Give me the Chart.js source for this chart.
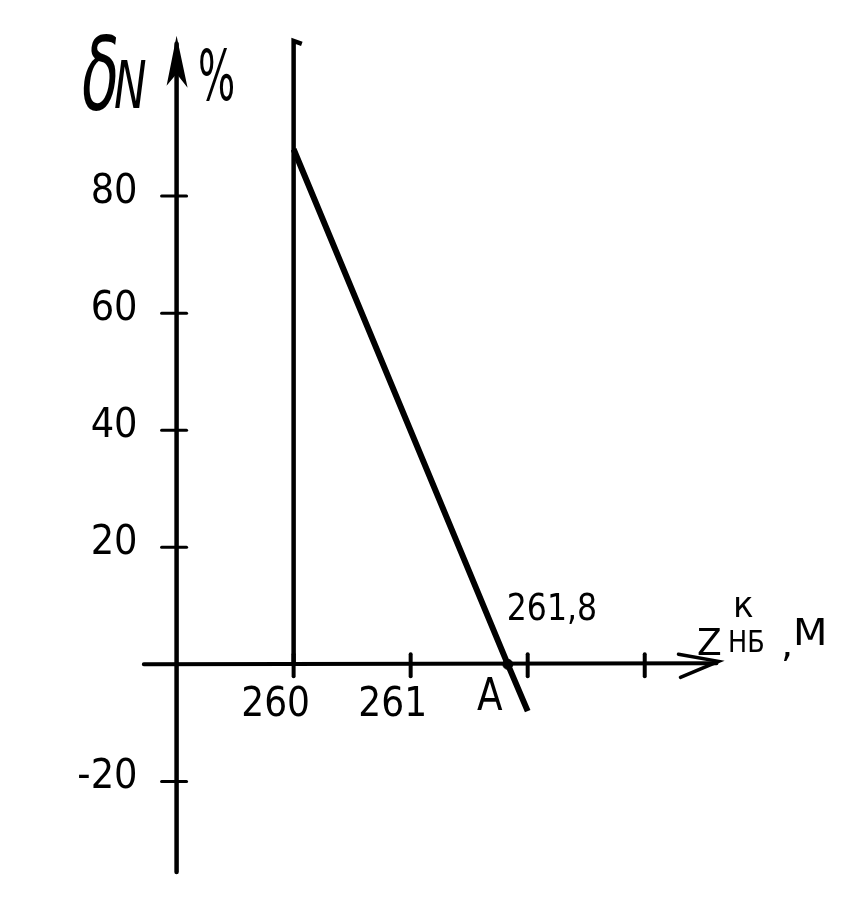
<!DOCTYPE html>
<html>
<head>
<meta charset="utf-8">
<script src="https://cdn.jsdelivr.net/npm/chart.js@4.4.1/dist/chart.umd.min.js"></script>
<style>
  html, body { margin: 0; padding: 0; background: #fff; }
  canvas { display: block; }
</style>
</head>
<body>
<canvas id="chart" width="857" height="921"></canvas>
<script>
// values
const lineX = [260, 261.83, 262];
const lineY = [88, 0, -8];
const wallX = [260, 260, 260.07];
const wallY = [0, 106.5, 106];
const pointA = { x: 261.83, y: 0 };
const xTicks = [260, 261, 262, 263];
const xTickLabels = ["260", "261", "", ""];
const yTicks = [80, 60, 40, 20, -20];
const yTickLabels = ["80", "60", "40", "20", "-20"];

const toPoints = (xs, ys) => xs.map((x, i) => ({ x: x, y: ys[i] }));

function txt(ctx, s, x, y, size, opts) {
  opts = opts || {};
  ctx.save();
  ctx.translate(x, y);
  ctx.scale(opts.sx || 1, 1);
  ctx.font = (opts.style || "") + " " + size + "px 'DejaVu Sans'";
  ctx.textAlign = opts.align || "center";
  ctx.textBaseline = opts.base || "middle";
  ctx.fillStyle = "#000";
  ctx.fillText(s, 0, 0);
  ctx.restore();
}

// hand-drawn axes, ticks and captions
const sketchAxes = {
  id: "sketchAxes",
  beforeDatasetsDraw(chart) {
    const ctx = chart.ctx;
    const xs = chart.scales.x;
    const ys = chart.scales.y;
    const ax = xs.getPixelForValue(259);
    const ay = ys.getPixelForValue(0);
    const top = ys.getPixelForValue(107.4);
    const bottom = ys.getPixelForValue(-35.5);
    const left = xs.getPixelForValue(258.72);
    const right = xs.getPixelForValue(263.63);

    ctx.save();
    ctx.strokeStyle = "#000";
    ctx.fillStyle = "#000";
    ctx.lineCap = "round";

    // y axis
    ctx.lineWidth = 4.5;
    ctx.beginPath();
    ctx.moveTo(ax, top + 8);
    ctx.lineTo(ax, bottom);
    ctx.stroke();
    ctx.beginPath();
    ctx.moveTo(ax, top);
    ctx.lineTo(ax - 10, top + 50);
    ctx.lineTo(ax, top + 38);
    ctx.lineTo(ax + 11, top + 52);
    ctx.closePath();
    ctx.fill();

    // x axis
    ctx.lineWidth = 4;
    ctx.beginPath();
    ctx.moveTo(left, ay);
    ctx.lineTo(right - 2, ay - 1);
    ctx.stroke();
    ctx.lineWidth = 3.5;
    ctx.beginPath();
    ctx.moveTo(right - 40, ay - 10);
    ctx.lineTo(right, ay - 3);
    ctx.lineTo(right - 38, ay + 13);
    ctx.stroke();

    // y ticks
    ctx.lineWidth = 3;
    yTicks.forEach((v, i) => {
      const py = ys.getPixelForValue(v);
      ctx.beginPath();
      ctx.moveTo(ax - 15, py);
      ctx.lineTo(ax + 10, py);
      ctx.stroke();
      txt(ctx, yTickLabels[i], ax - 39, py - 4, 41, { align: "right", sx: 0.9 });
    });

    // x ticks
    ctx.lineWidth = 4;
    xTicks.forEach((v, i) => {
      const px = xs.getPixelForValue(v);
      ctx.beginPath();
      ctx.moveTo(px, ay - 10);
      ctx.lineTo(px, ay + 12);
      ctx.stroke();
      if (xTickLabels[i]) txt(ctx, xTickLabels[i], px - 18, ay + 41, 41, { sx: 0.88 });
    });

    // axis titles
    txt(ctx, "δ", 82, 110, 102, { align: "left", base: "alphabetic", sx: 0.6, style: "italic" });
    txt(ctx, "N", 114, 108, 66, { align: "left", base: "alphabetic", sx: 0.66, style: "italic" });
    txt(ctx, "%", 198, 100, 70, { align: "left", base: "alphabetic", sx: 0.56 });

    txt(ctx, "Z", 697, 655, 38, { align: "left", base: "alphabetic", sx: 0.95 });
    txt(ctx, "к", 733, 617, 36, { align: "left", base: "alphabetic", sx: 0.95 });
    txt(ctx, "НБ", 728, 652, 30, { align: "left", base: "alphabetic", sx: 0.85 });
    txt(ctx, ",", 781, 657, 38, { align: "left", base: "alphabetic" });
    txt(ctx, "М", 793, 645, 38, { align: "left", base: "alphabetic", sx: 1.05 });

    // annotations at the crossing point
    const pa = xs.getPixelForValue(pointA.x);
    txt(ctx, "261,8", pa - 1, ay - 44, 38, { align: "left", base: "alphabetic", sx: 0.83 });
    txt(ctx, "A", pa - 18, ay + 34, 44, { sx: 0.85 });
    ctx.restore();
  }
};

const ctx = document.getElementById("chart").getContext("2d");
const chart = new Chart(ctx, {
  type: "scatter",
  data: {
    datasets: [
      {
        label: "wall",
        data: toPoints(wallX, wallY),
        showLine: true,
        borderColor: "#000",
        borderWidth: 4.5,
        pointRadius: 0,
        tension: 0,
      },
      {
        label: "δN",
        data: toPoints(lineX, lineY),
        showLine: true,
        borderColor: "#000",
        borderWidth: 6,
        pointRadius: 0,
        tension: 0,
      },
      {
        label: "A",
        data: [pointA],
        backgroundColor: "#000",
        borderColor: "#000",
        pointRadius: 5,
      },
    ],
  },
  options: {
    responsive: false,
    animation: false,
    layout: { padding: 0 },
    plugins: {
      legend: { display: false },
      tooltip: { enabled: false },
    },
    scales: {
      x: { type: "linear", display: false, min: 257.5425, max: 264.7624 },
      y: { type: "linear", display: false, min: -42.83, max: 112.48 },
    },
  },
  plugins: [sketchAxes],
});
</script>
</body>
</html>
